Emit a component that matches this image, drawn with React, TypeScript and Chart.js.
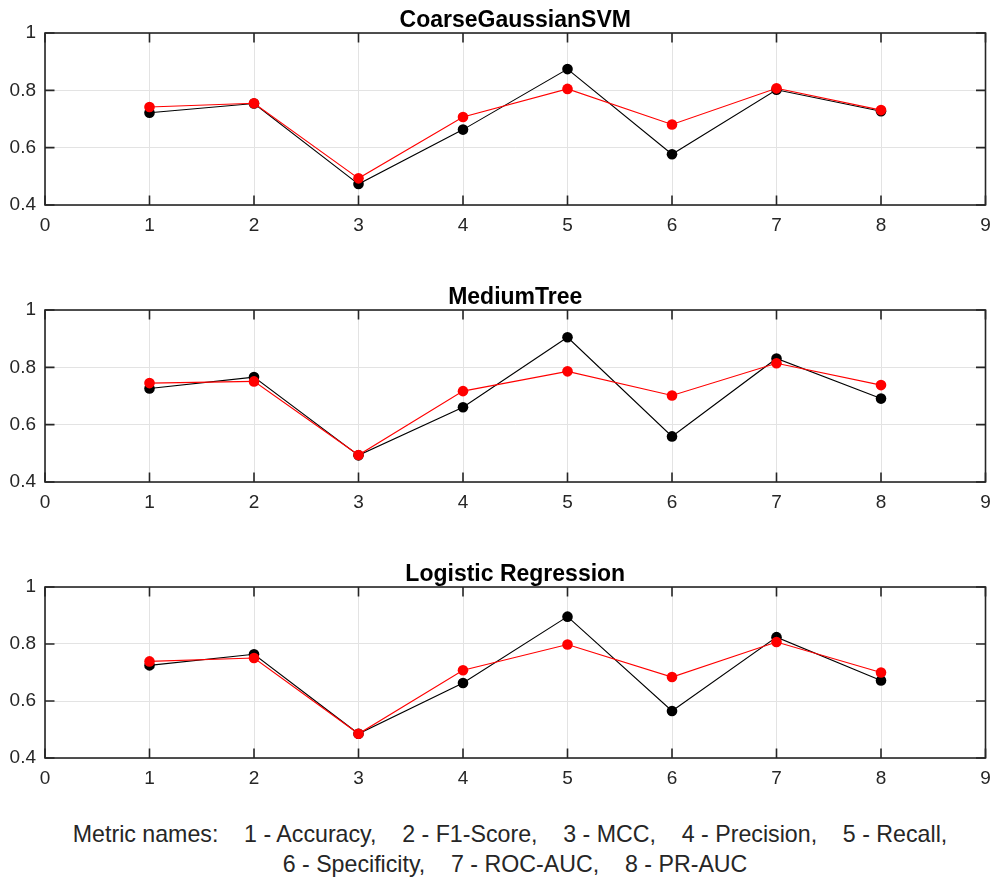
import { useEffect, useRef } from "react";
import { Chart, registerables } from "chart.js";

Chart.register(...registerables);

// Metric index on the x axis (1..8) and the axis tick values
const metricIds = [1, 2, 3, 4, 5, 6, 7, 8];
const xTicks = [0, 1, 2, 3, 4, 5, 6, 7, 8, 9];
const yTicks = [0.4, 0.6, 0.8, 1];

// Scores per model: black series and red series
const svmBlack = [0.722, 0.754, 0.473, 0.663, 0.874, 0.577, 0.802, 0.727];
const svmRed = [0.742, 0.755, 0.493, 0.707, 0.805, 0.681, 0.807, 0.731];
const treeBlack = [0.726, 0.766, 0.493, 0.661, 0.905, 0.559, 0.831, 0.691];
const treeRed = [0.745, 0.751, 0.494, 0.717, 0.786, 0.702, 0.814, 0.738];
const logBlack = [0.725, 0.764, 0.485, 0.663, 0.896, 0.565, 0.824, 0.672];
const logRed = [0.739, 0.751, 0.485, 0.708, 0.798, 0.684, 0.807, 0.7];

const panelTitles = ["CoarseGaussianSVM", "MediumTree", "Logistic Regression"];
const footerLine1 =
  "Metric names:    1 - Accuracy,    2 - F1-Score,    3 - MCC,    4 - Precision,    5 - Recall,";
const footerLine2 = "6 - Specificity,    7 - ROC-AUC,    8 - PR-AUC";

const FONT = "'Liberation Sans', Arial, Helvetica, sans-serif";
const AXIS_COLOR = "#262626";

// Box around the axes, inward tick marks on all four sides, and the panel title
const axesFrame = {
  id: "axesFrame",
  afterDraw(chart: any, _args: any, opts: any) {
    const { ctx, chartArea, scales } = chart;
    const { left, right, top, bottom } = chartArea;
    ctx.save();
    ctx.strokeStyle = AXIS_COLOR;
    ctx.lineWidth = 1.6;
    ctx.beginPath();
    const len = 9.5;
    for (const v of xTicks) {
      const x = scales.x.getPixelForValue(v);
      ctx.moveTo(x, bottom);
      ctx.lineTo(x, bottom - len);
      ctx.moveTo(x, top);
      ctx.lineTo(x, top + len);
    }
    for (const v of yTicks) {
      const y = scales.y.getPixelForValue(v);
      ctx.moveTo(left, y);
      ctx.lineTo(left + len, y);
      ctx.moveTo(right, y);
      ctx.lineTo(right - len, y);
    }
    ctx.stroke();
    ctx.strokeRect(left, top, right - left, bottom - top);

    ctx.fillStyle = "#000";
    ctx.font = `bold 23px ${FONT}`;
    ctx.textAlign = "center";
    ctx.textBaseline = "alphabetic";
    ctx.fillText(opts.text, (left + right) / 2, top - 6.5);
    ctx.restore();
  },
};

type PanelProps = { title: string; black: number[]; red: number[]; top: number; plotHeight: number };

function Panel({ title, black, red, top, plotHeight }: PanelProps) {
  const ref = useRef<HTMLCanvasElement | null>(null);
  const canvasHeight = 33 + plotHeight + 36;

  useEffect(() => {
    if (!ref.current) return;
    const toPoints = (vals: number[]) => metricIds.map((m, i) => ({ x: m, y: vals[i] }));
    const marker = { pointRadius: 5.3, pointBorderWidth: 0, borderWidth: 1.1 };
    const chart = new Chart(ref.current, {
      type: "line",
      data: {
        datasets: [
          {
            data: toPoints(red),
            borderColor: "#ff0000",
            backgroundColor: "#ff0000",
            pointBackgroundColor: "#ff0000",
            ...marker,
            order: 0,
          },
          {
            data: toPoints(black),
            borderColor: "#000000",
            backgroundColor: "#000000",
            pointBackgroundColor: "#000000",
            ...marker,
            order: 1,
          },
        ],
      },
      options: {
        animation: false,
        responsive: false,
        maintainAspectRatio: false,
        layout: { padding: { top: 33, right: 7.5, bottom: 0, left: 0 } },
        plugins: {
          legend: { display: false },
          tooltip: { enabled: false },
          title: { display: false },
          axesFrame: { text: title },
        } as any,
        scales: {
          x: {
            type: "linear",
            min: 0,
            max: 9,
            afterBuildTicks: (scale: any) => {
              scale.ticks = xTicks.map((v) => ({ value: v }));
            },
            afterFit: (scale: any) => {
              scale.height = 36;
              scale.paddingLeft = 0;
              scale.paddingRight = 0;
            },
            border: { display: false },
            grid: { color: "#e3e3e3", lineWidth: 1, drawTicks: false },
            ticks: {
              color: AXIS_COLOR,
              font: { size: 19, family: FONT },
              padding: 9,
              maxRotation: 0,
              autoSkip: false,
            },
          },
          y: {
            type: "linear",
            min: 0.4,
            max: 1,
            afterBuildTicks: (scale: any) => {
              scale.ticks = yTicks.map((v) => ({ value: v }));
            },
            afterFit: (scale: any) => {
              scale.width = 45;
              scale.paddingTop = 0;
              scale.paddingBottom = 0;
            },
            border: { display: false },
            grid: { color: "#e3e3e3", lineWidth: 1, drawTicks: false },
            ticks: {
              color: AXIS_COLOR,
              font: { size: 19, family: FONT },
              padding: 9,
              callback: (v: any) => String(Number(Number(v).toFixed(1))),
            },
          },
        },
      },
      plugins: [axesFrame],
    });
    return () => chart.destroy();
  }, [title, black, red, plotHeight]);

  return (
    <canvas
      ref={ref}
      width={993}
      height={canvasHeight}
      style={{ position: "absolute", left: 0, top, width: 993, height: canvasHeight }}
    />
  );
}

export default function App() {
  const footerStyle: any = {
    position: "absolute",
    textAlign: "center",
    whiteSpace: "pre",
    fontFamily: FONT,
    fontSize: 23.2,
    lineHeight: "26px",
    color: AXIS_COLOR,
  };
  return (
    <div
      style={{
        position: "absolute",
        left: 0,
        top: 0,
        width: 993,
        height: 880,
        background: "#fff",
        overflow: "hidden",
      }}
    >
      <Panel title={panelTitles[0]} black={svmBlack} red={svmRed} top={0} plotHeight={172} />
      <Panel title={panelTitles[1]} black={treeBlack} red={treeRed} top={277} plotHeight={172} />
      <Panel title={panelTitles[2]} black={logBlack} red={logRed} top={554} plotHeight={171} />
      <div style={{ ...footerStyle, left: 0, width: 1020, top: 821 }}>{footerLine1}</div>
      <div style={{ ...footerStyle, left: 0, width: 1030, top: 851 }}>{footerLine2}</div>
    </div>
  );
}
